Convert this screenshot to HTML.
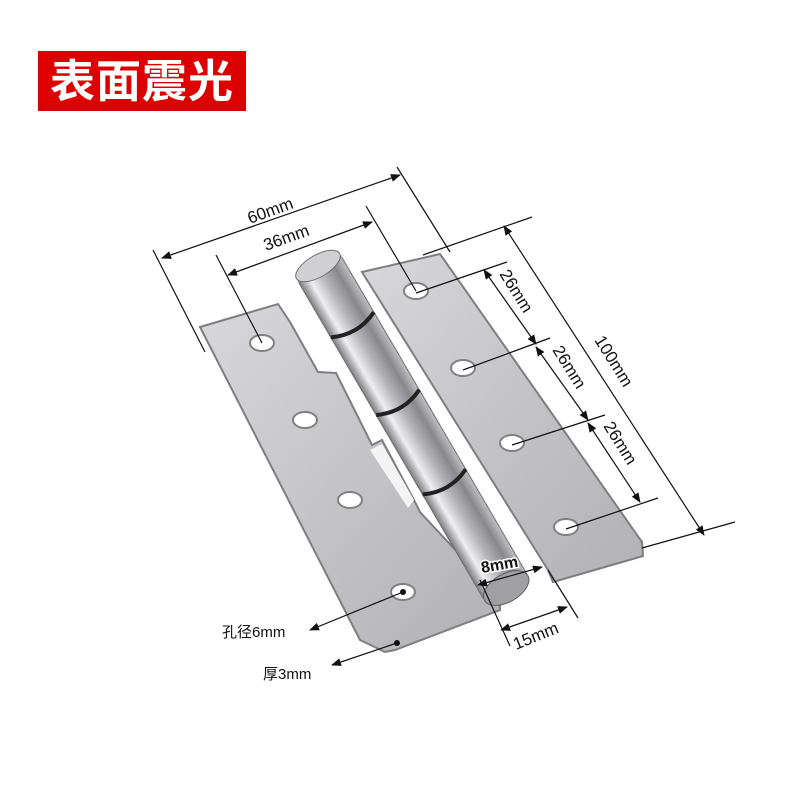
<!DOCTYPE html>
<html><head><meta charset="utf-8"><style>
html,body{margin:0;padding:0;background:#fff;}
svg{display:block;}
text{font-family:"Liberation Sans","Noto Sans CJK SC",sans-serif;fill:#111;}
</style></head><body>
<svg width="800" height="800" viewBox="0 0 800 800" xmlns="http://www.w3.org/2000/svg">
<defs>
<linearGradient id="leaf" x1="0" y1="0" x2="1" y2="1">
<stop offset="0" stop-color="#d8d8da"/><stop offset="0.5" stop-color="#c4c4c7"/><stop offset="1" stop-color="#b2b2b5"/>
</linearGradient>
<linearGradient id="barrel" x1="0" y1="0" x2="1" y2="0">
<stop offset="0" stop-color="#7c7c80"/><stop offset="0.22" stop-color="#efeff1"/><stop offset="0.5" stop-color="#b4b4b8"/><stop offset="0.78" stop-color="#88888c"/><stop offset="1" stop-color="#c0c0c3"/>
</linearGradient>
<marker id="ar" markerWidth="10" markerHeight="8" refX="9" refY="4" orient="auto" markerUnits="userSpaceOnUse">
<path d="M0,0 L10,4 L0,8 Z" fill="#111"/></marker>
<marker id="as" markerWidth="10" markerHeight="8" refX="1" refY="4" orient="auto" markerUnits="userSpaceOnUse">
<path d="M10,0 L0,4 L10,8 Z" fill="#111"/></marker>
</defs>

<rect x="38" y="51" width="208" height="60" fill="#dd0000"/>
<text x="142" y="97" text-anchor="middle" font-size="45" font-weight="bold" style="fill:#fff" letter-spacing="1">表面震光</text>

<!-- right leaf -->
<polygon points="362,272 440,254 642,542 643,556 553,582 548,570" fill="url(#leaf)" stroke="#7e7e82" stroke-width="2"/>
<!-- left leaf -->
<polygon points="200,327 278,304 290,322 318,372 336,373 372,445 382,440 414,500 420,512 500,598 500,610 395,650 385,652 360,640" fill="url(#leaf)" stroke="#7e7e82" stroke-width="2"/>
<polygon points="370,450 382,444 414,500 408,508" fill="#f4f4f4"/>
<!-- barrel -->
<g transform="translate(318,266) rotate(-30.3)">
<rect x="-25" y="0" width="50" height="375" rx="6" fill="url(#barrel)" stroke="#6e6e72"/>
<ellipse cx="0" cy="0" rx="25" ry="11" fill="#d0d0d3" stroke="#6e6e72"/>
<path d="M-25,68 Q0,80 25,68" stroke="#222" stroke-width="4" fill="none"/>
<path d="M-25,158 Q0,170 25,158" stroke="#222" stroke-width="4" fill="none"/>
<path d="M-25,250 Q0,262 25,250" stroke="#222" stroke-width="4" fill="none"/>
<ellipse cx="0" cy="373" rx="25" ry="14" fill="#a0a0a3" stroke="#5e5e62"/>
</g>
<!-- holes -->
<g fill="#fff" stroke="#808084" stroke-width="2">
<ellipse cx="262" cy="343" rx="12" ry="8"/><ellipse cx="305" cy="420" rx="12" ry="8"/>
<ellipse cx="350" cy="500" rx="12" ry="8"/><ellipse cx="403" cy="592" rx="12" ry="8"/>
<ellipse cx="416" cy="291" rx="12" ry="8"/><ellipse cx="463" cy="368" rx="12" ry="8"/>
<ellipse cx="512" cy="443" rx="12" ry="8"/><ellipse cx="566" cy="527" rx="12" ry="8"/>
</g>
<circle cx="403" cy="592" r="3" fill="#111"/>
<circle cx="397" cy="643" r="3" fill="#111"/>

<g stroke="#111" stroke-width="1.2" fill="none">
<line x1="153" y1="250" x2="205" y2="352"/><line x1="397" y1="167" x2="450" y2="252"/>
<line x1="162" y1="258" x2="400" y2="175" marker-start="url(#as)" marker-end="url(#ar)"/>
<line x1="216" y1="255" x2="262" y2="343"/><line x1="366" y1="206" x2="416" y2="291"/>
<line x1="228" y1="275" x2="372" y2="222" marker-start="url(#as)" marker-end="url(#ar)"/>
<line x1="423" y1="255" x2="532" y2="217"/><line x1="642" y1="548" x2="735" y2="522"/>
<line x1="504" y1="226" x2="704" y2="535" marker-start="url(#as)" marker-end="url(#ar)"/>
<line x1="416" y1="293" x2="507" y2="262"/><line x1="463" y1="370" x2="550" y2="338"/>
<line x1="512" y1="445" x2="605" y2="415"/><line x1="566" y1="529" x2="658" y2="498"/>
<line x1="484" y1="270" x2="536" y2="344" marker-start="url(#as)" marker-end="url(#ar)"/>
<line x1="536" y1="347" x2="588" y2="420" marker-start="url(#as)" marker-end="url(#ar)"/>
<line x1="588" y1="423" x2="640" y2="502" marker-start="url(#as)" marker-end="url(#ar)"/>
<line x1="478" y1="585" x2="542" y2="567" marker-start="url(#as)" marker-end="url(#ar)"/>
<line x1="480" y1="580" x2="510" y2="646"/><line x1="548" y1="570" x2="578" y2="618"/>
<line x1="501" y1="630" x2="567" y2="607" marker-start="url(#as)" marker-end="url(#ar)"/>
<line x1="403" y1="592" x2="310" y2="630" marker-end="url(#ar)"/>
<line x1="397" y1="643" x2="332" y2="665" marker-end="url(#ar)"/>
</g>

<text font-size="17" transform="translate(250,224) rotate(-20)">60mm</text>
<text font-size="17" transform="translate(266,251) rotate(-20)">36mm</text>
<text font-size="17" transform="translate(594,340) rotate(58)">100mm</text>
<text font-size="17" transform="translate(499,274) rotate(58)">26mm</text>
<text font-size="17" transform="translate(552,350) rotate(58)">26mm</text>
<text font-size="17" transform="translate(603,426) rotate(58)">26mm</text>
<text font-size="16" font-weight="bold" transform="translate(482,573) rotate(-10)" style="fill:#111;stroke:#fff;stroke-width:3;paint-order:stroke">8mm</text>
<text font-size="17" transform="translate(516,650) rotate(-22)">15mm</text>
<text font-size="15" x="222" y="637">孔径6mm</text>
<text font-size="15" x="263" y="679">厚3mm</text>
</svg>
</body></html>
